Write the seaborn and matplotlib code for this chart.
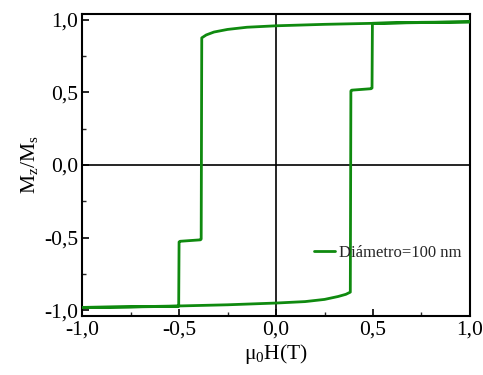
import matplotlib
matplotlib.use("Agg")
import matplotlib.pyplot as plt
import seaborn as sns
import numpy as np
import pandas as pd
from matplotlib.ticker import MultipleLocator, FuncFormatter

# Upper branch (field decreasing)
h_down = [1.0, 0.75, 0.5, 0.25, 0.0, -0.15, -0.25, -0.32, -0.36, -0.383, -0.386, -0.39, -0.495, -0.5, -0.502, -0.75, -1.0]
m_down = [0.985, 0.98, 0.975, 0.968, 0.958, 0.948, 0.933, 0.915, 0.895, 0.875, -0.51, -0.515, -0.525, -0.53, -0.972, -0.977, -0.98]
# Lower branch (field increasing)
h_up = [-1.0, -0.75, -0.5, -0.25, 0.0, 0.15, 0.25, 0.32, 0.36, 0.383, 0.386, 0.39, 0.49, 0.495, 0.497, 0.75, 1.0]
m_up = [-0.98, -0.976, -0.97, -0.962, -0.95, -0.94, -0.925, -0.905, -0.89, -0.875, 0.51, 0.515, 0.525, 0.53, 0.975, 0.982, 0.985]

legend_label = "Diámetro=100 nm"
xticks = [-1.0, -0.5, 0.0, 0.5, 1.0]
yticks = [-1.0, -0.5, 0.0, 0.5, 1.0]

sns.set_theme(style="white")
plt.rcParams['font.family'] = ['Liberation Serif', 'DejaVu Serif']
plt.rcParams['mathtext.fontset'] = 'custom'
plt.rcParams['mathtext.rm'] = 'Liberation Serif'
plt.rcParams['mathtext.it'] = 'Liberation Serif:italic'

df = pd.DataFrame({"H": h_down + h_up, "M": m_down + m_up})

fig = plt.figure(figsize=(4.83, 3.75), dpi=100)
ax = fig.add_axes([0.170, 0.157, 0.803, 0.806])

ax.axhline(0, color="black", lw=1.2, zorder=1)
ax.axvline(0, color="black", lw=1.2, zorder=1)

sns.lineplot(data=df, x="H", y="M", sort=False, estimator=None, color="#0f8a0f",
             lw=2.0, ax=ax, label=legend_label, zorder=3)

ax.set_xlim(-1.0, 1.0)
ax.set_ylim(-1.04, 1.04)
ax.set_xticks(xticks)
ax.set_yticks(yticks)
fmt = FuncFormatter(lambda v, p: f"{v:.1f}".replace(".", ",").replace("-0,0", "0,0"))
ax.xaxis.set_major_formatter(fmt)
ax.yaxis.set_major_formatter(fmt)
ax.xaxis.set_minor_locator(MultipleLocator(0.25))
ax.yaxis.set_minor_locator(MultipleLocator(0.25))
ax.tick_params(which="major", direction="in", length=5, width=1.2, labelsize=15.5,
               bottom=True, left=True, top=False, right=False, colors="black", pad=3)
ax.tick_params(which="minor", direction="in", length=3, width=1.0,
               bottom=True, left=True, top=False, right=False)
for s in ax.spines.values():
    s.set_color("black")
    s.set_linewidth(1.5)

ax.set_xlabel(r"μ$_\mathrm{0}$H(T)", fontsize=15.5, labelpad=2, color="black")
ax.set_ylabel(r"M$_\mathrm{z}$/M$_\mathrm{s}$", fontsize=15.5, labelpad=3, color="black")

leg = ax.legend(loc="center left", bbox_to_anchor=(0.58, 0.21), frameon=False,
                fontsize=12, handlelength=1.3, handletextpad=0.2, borderaxespad=0)

fig.savefig("out.png", dpi=100)
